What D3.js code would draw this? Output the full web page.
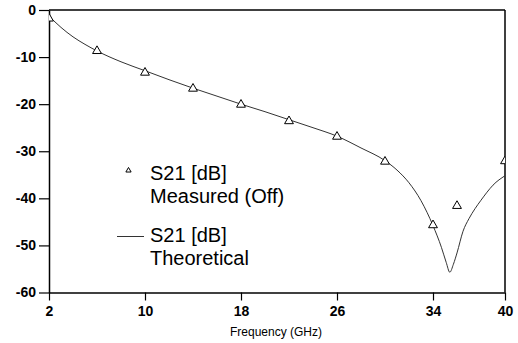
<!DOCTYPE html>
<html>
<head>
<meta charset="utf-8">
<script src="https://cdn.jsdelivr.net/npm/d3@7"></script>
<style>
  body { margin: 0; background: #fff; }
  svg { display: block; font-family: "Liberation Sans", Arial, sans-serif; }
</style>
</head>
<body>
<script>
// measured S21 (triangles)
var measFreq = [2, 6, 10, 14, 18, 22, 26, 30, 34, 36, 40];
var measDb = [-1.8, -8.7, -13.3, -16.7, -20.1, -23.6, -26.9, -32.2, -45.7, -41.6, -32.1];

// theoretical S21 (line)
var theoFreq = [2, 3, 4, 5, 6, 8, 10, 12, 14, 16, 18, 20, 22, 24, 26, 28, 30, 31, 32, 33, 34, 34.7, 35.1, 35.4, 35.7, 36, 36.5, 37, 37.5, 38, 38.5, 39, 40];
var theoDb = [-1.3, -3.7, -5.7, -7.3, -8.7, -11, -12.9, -14.8, -16.6, -18.3, -20, -21.6, -23.3, -25, -26.8, -29.3, -32, -34, -36.7, -40.5, -45.8, -50.4, -53.6, -55.7, -54, -51.6, -47, -44.3, -42.2, -40.4, -38.7, -37.2, -35.2];

var xTicks = [2, 10, 18, 26, 34, 40];
var yTicks = [0, -10, -20, -30, -40, -50, -60];

var legendItems = [
	{ kind: "triangle", lines: ["S21 [dB]", "Measured (Off)"] },
	{ kind: "line", lines: ["S21 [dB]", "Theoretical"] }
];

var W = 518, H = 343;
var pLeft = 49, pRight = 505, pTop = 10, pBottom = 292.5;

var svg = d3.select("body").append("svg").attr("width", W).attr("height", H);

var x = d3.scaleLinear().domain([2, 40]).range([pLeft, pRight]);
var y = d3.scaleLinear().domain([-60, 0]).range([pBottom, pTop]);

svg.append("clipPath").attr("id", "plot")
	.append("rect").attr("x", pLeft).attr("y", pTop)
	.attr("width", pRight - pLeft).attr("height", pBottom - pTop);

// frame top / right
svg.append("line").attr("x1", pLeft).attr("x2", pRight).attr("y1", pTop).attr("y2", pTop)
	.attr("stroke", "#000").attr("stroke-width", 1.5);
svg.append("line").attr("x1", pRight).attr("x2", pRight).attr("y1", pTop).attr("y2", pBottom)
	.attr("stroke", "#000").attr("stroke-width", 1.5);

var yAxis = svg.append("g").attr("transform", "translate(" + pLeft + ",0)")
	.call(d3.axisLeft(y).tickValues(yTicks).tickSize(10).tickSizeOuter(0).tickPadding(3)
		.tickFormat(function(d){ return String(d); }));

var xAxis = svg.append("g").attr("transform", "translate(0," + pBottom + ")")
	.call(d3.axisBottom(x).tickValues(xTicks).tickSize(8).tickSizeOuter(0).tickPadding(6)
		.tickFormat(function(d){ return String(d); }));

[yAxis, xAxis].forEach(function(g){
	g.select(".domain").attr("stroke", "#000").attr("stroke-width", 1.5);
	g.selectAll(".tick line").attr("stroke", "#000").attr("stroke-width", 1.2);
	g.selectAll(".tick text").attr("fill", "#000")
		.style("font-family", "'Liberation Sans', Arial, sans-serif")
		.style("font-size", "14px").style("font-weight", "bold");
});

svg.append("text")
	.attr("x", (x(18) + x(26)) / 2 - 13).attr("y", 336)
	.attr("text-anchor", "middle")
	.style("font-size", "12px")
	.text("Frequency (GHz)");

// theoretical curve
var line = d3.line()
	.x(function(d){ return x(d[0]); })
	.y(function(d){ return y(d[1]); })
	.curve(d3.curveMonotoneX);

svg.append("path")
	.datum(d3.zip(theoFreq, theoDb))
	.attr("clip-path", "url(#plot)")
	.attr("d", line)
	.attr("fill", "none")
	.attr("stroke", "#333")
	.attr("stroke-width", 1);

// measured triangles
var tri = d3.symbol().type(d3.symbolTriangle).size(34);
svg.append("g").attr("clip-path", "url(#plot)")
	.selectAll("path")
	.data(d3.zip(measFreq, measDb))
	.enter()
	.append("path")
	.attr("d", tri)
	.attr("transform", function(d){ return "translate(" + x(d[0]) + "," + y(d[1]) + ")"; })
	.attr("fill", "#fff")
	.attr("stroke", "#000")
	.attr("stroke-width", 1);

// legend
var lg = svg.append("g").style("font-size", "20px");
var lgBase = [180, 242];
legendItems.forEach(function(item, i){
	var by = lgBase[i];
	if (item.kind === "triangle") {
		lg.append("path")
			.attr("d", d3.symbol().type(d3.symbolTriangle).size(12)())
			.attr("transform", "translate(128.5," + (by - 9.5) + ")")
			.attr("fill", "#fff").attr("stroke", "#000").attr("stroke-width", 1);
	} else {
		lg.append("line")
			.attr("x1", 117).attr("x2", 144)
			.attr("y1", by - 5.5).attr("y2", by - 5.5)
			.attr("stroke", "#333").attr("stroke-width", 1);
	}
	item.lines.forEach(function(t, j){
		lg.append("text").attr("x", 150).attr("y", by + j * 22.7).text(t);
	});
});
</script>
</body>
</html>
